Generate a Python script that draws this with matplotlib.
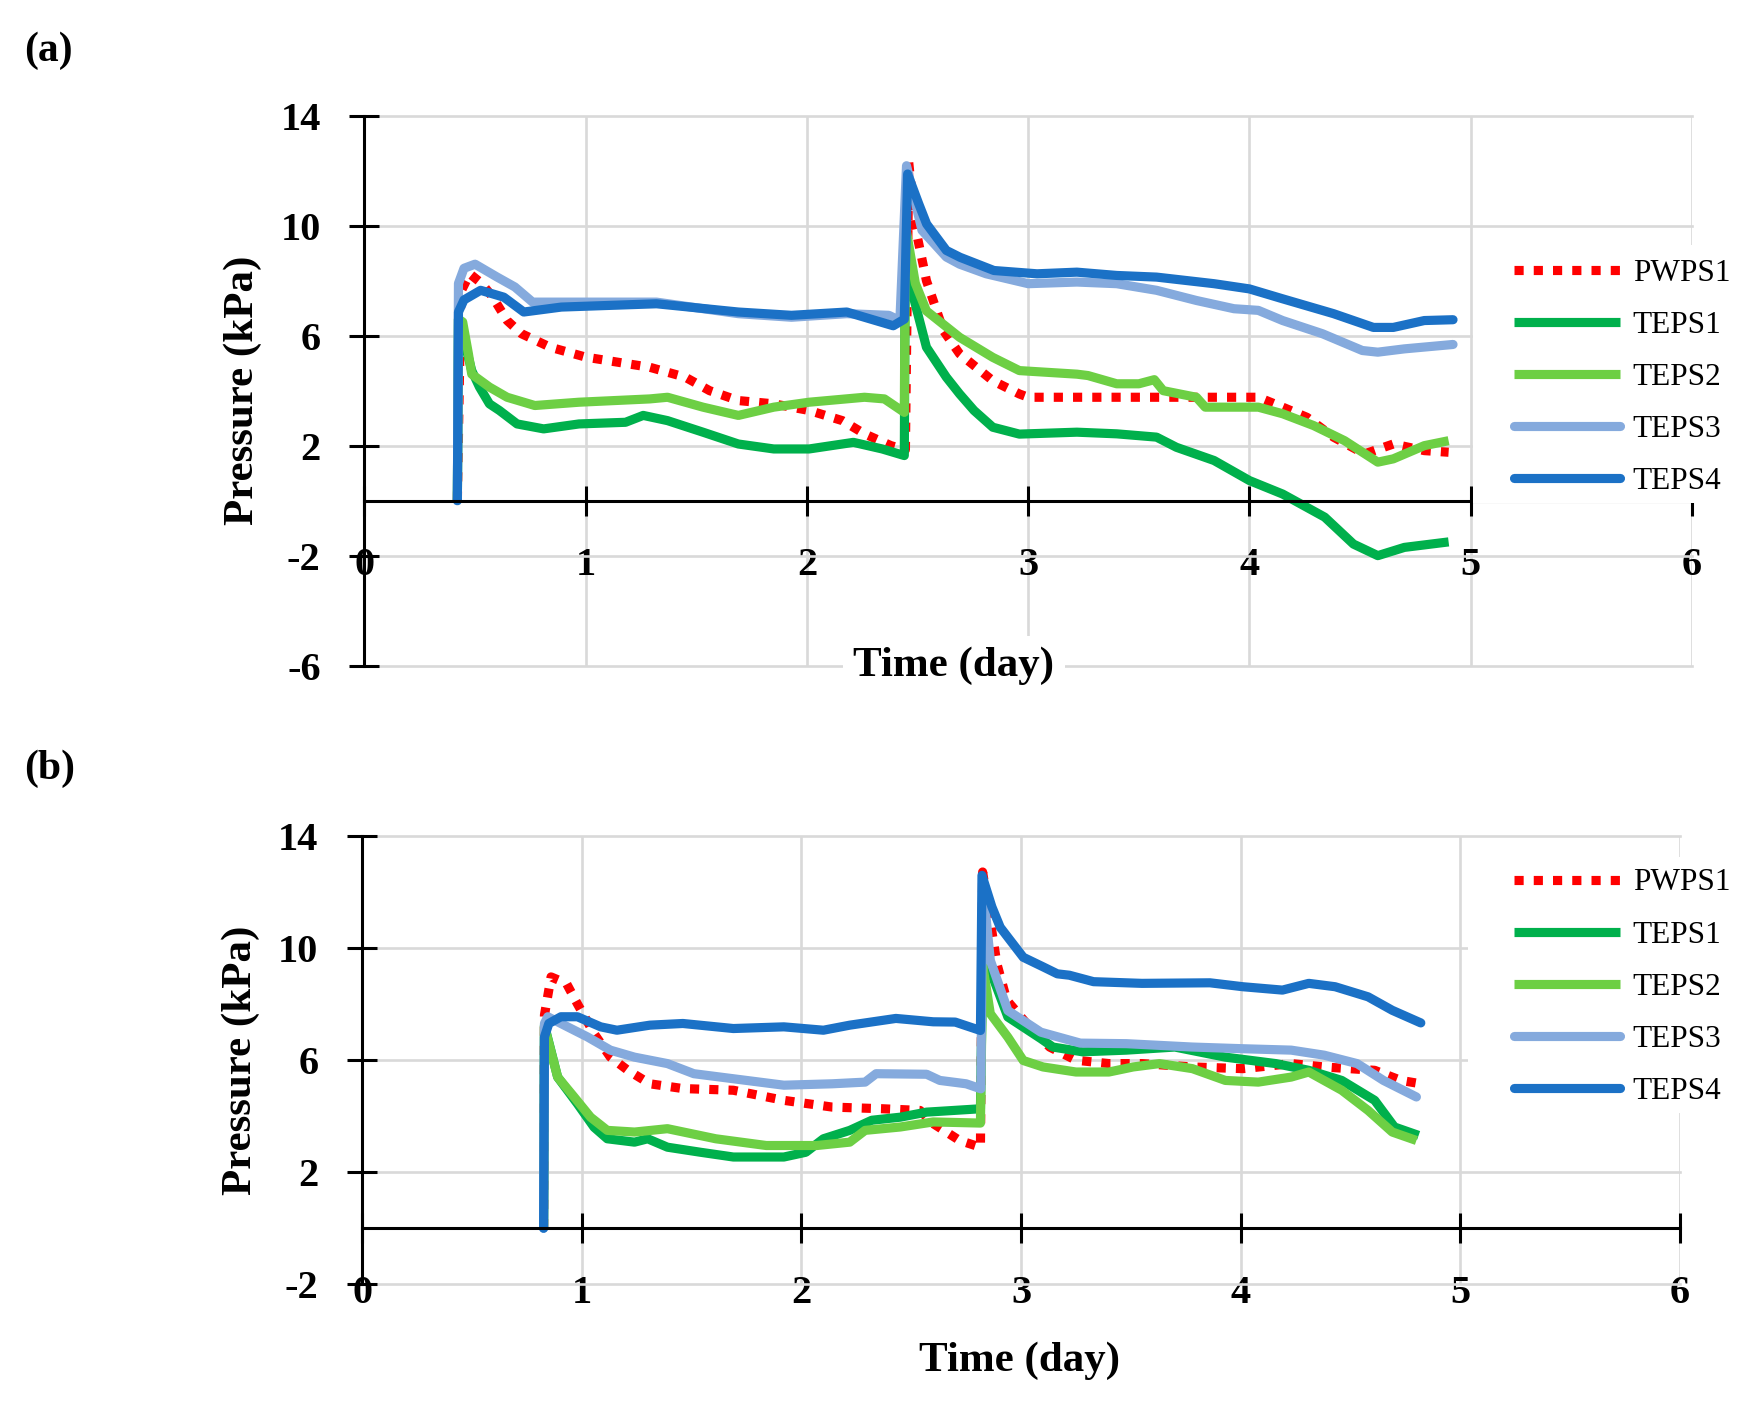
import matplotlib.pyplot as plt
from matplotlib.patches import Rectangle

plt.rcParams['font.family'] = ['Liberation Serif', 'DejaVu Serif']
plt.rcParams['font.weight'] = 'bold'
plt.rcParams['axes.unicode_minus'] = False

names = ['PWPS1', 'TEPS1', 'TEPS2', 'TEPS3', 'TEPS4']

# ---- panel (a): time (day) / pressure (kPa)
a_pwps1_t = [0.42, 0.436, 0.476, 0.53, 0.58, 0.645, 0.71, 0.84, 1.0, 1.29, 1.45, 1.56, 1.69, 1.85,
             2.01, 2.16, 2.26, 2.38, 2.445, 2.46, 2.49, 2.54, 2.617, 2.69, 2.84, 2.96, 3.0, 3.22,
             3.58, 4.04, 4.15, 4.26, 4.38, 4.52, 4.65, 4.79, 4.90]
a_pwps1_p = [0, 7.6, 8.25, 7.9, 7.4, 6.55, 6.07, 5.58, 5.22, 4.85, 4.49, 4.0, 3.64, 3.52,
             3.28, 2.91, 2.43, 2.0, 1.85, 12.3, 9.94, 8.0, 6.18, 5.34, 4.36, 3.88, 3.76, 3.76,
             3.76, 3.76, 3.4, 3.03, 2.31, 1.7, 2.06, 1.82, 1.76]

a_teps1_t = [0.42, 0.425, 0.445, 0.485, 0.52, 0.565, 0.61, 0.69, 0.81, 0.97, 1.18, 1.26, 1.37,
             1.53, 1.69, 1.85, 2.01, 2.21, 2.34, 2.44, 2.445, 2.475, 2.54, 2.63, 2.69, 2.755,
             2.84, 2.96, 3.22, 3.40, 3.58, 3.67, 3.84, 4.0, 4.15, 4.34, 4.47, 4.58, 4.70, 4.90]
a_teps1_p = [0, 6.6, 6.0, 4.73, 4.13, 3.52, 3.28, 2.79, 2.61, 2.79, 2.85, 3.1, 2.91,
             2.49, 2.06, 1.88, 1.88, 2.12, 1.88, 1.64, 10.0, 7.6, 5.58, 4.49, 3.88, 3.28,
             2.67, 2.42, 2.49, 2.43, 2.31, 1.94, 1.46, 0.73, 0.24, -0.6, -1.58, -2.0, -1.7, -1.5]

a_teps2_t = [0.42, 0.425, 0.444, 0.47, 0.485, 0.565, 0.645, 0.77, 0.97, 1.29, 1.37, 1.53, 1.69,
             1.85, 2.01, 2.26, 2.35, 2.44, 2.445, 2.49, 2.54, 2.69, 2.84, 2.96, 3.22, 3.27,
             3.40, 3.50, 3.57, 3.61, 3.76, 3.8, 4.04, 4.15, 4.29, 4.43, 4.58, 4.65, 4.79, 4.90]
a_teps2_p = [0, 6.6, 6.5, 5.34, 4.6, 4.13, 3.76, 3.46, 3.58, 3.7, 3.76, 3.4, 3.1,
             3.4, 3.58, 3.76, 3.7, 3.21, 10.0, 7.9, 6.9, 5.94, 5.21, 4.73, 4.6, 4.55,
             4.25, 4.25, 4.4, 4.0, 3.76, 3.4, 3.4, 3.16, 2.73, 2.18, 1.4, 1.52, 2.0, 2.18]

a_teps3_t = [0.42, 0.425, 0.45, 0.50, 0.60, 0.68, 0.76, 0.97, 1.32, 1.69, 1.93, 2.18, 2.37, 2.42,
             2.45, 2.52, 2.63, 2.69, 2.81, 3.0, 3.22, 3.40, 3.58, 3.76, 3.93, 4.04, 4.15,
             4.33, 4.51, 4.58, 4.70, 4.92]
a_teps3_p = [0, 7.9, 8.45, 8.6, 8.13, 7.77, 7.22, 7.22, 7.22, 6.8, 6.67, 6.8, 6.74, 6.55,
             12.18, 9.83, 8.86, 8.6, 8.25, 7.89, 7.95, 7.89, 7.65, 7.28, 6.98, 6.92, 6.55,
             6.07, 5.46, 5.4, 5.52, 5.68]

a_teps4_t = [0.42, 0.425, 0.45, 0.525, 0.63, 0.72, 0.89, 1.32, 1.69, 1.93, 2.18, 2.39, 2.44,
             2.455, 2.505, 2.541, 2.63, 2.692, 2.845, 3.04, 3.22, 3.40, 3.58, 3.84, 4.0,
             4.15, 4.38, 4.56, 4.65, 4.79, 4.92]
a_teps4_p = [0, 6.86, 7.3, 7.65, 7.4, 6.86, 7.04, 7.16, 6.86, 6.74, 6.86, 6.36, 6.6,
             11.88, 10.8, 10.06, 9.1, 8.85, 8.37, 8.25, 8.31, 8.19, 8.13, 7.89, 7.7,
             7.34, 6.8, 6.3, 6.3, 6.55, 6.58]

# ---- panel (b)
b_pwps1_t = [0.826, 0.83, 0.86, 0.93, 0.98, 1.056, 1.13, 1.21, 1.31, 1.46, 1.69, 1.92, 2.14,
             2.37, 2.54, 2.60, 2.72, 2.815, 2.825, 2.89, 2.935, 3.025, 3.13, 3.25, 3.40, 3.55,
             3.78, 4.01, 4.23, 4.38, 4.61, 4.73, 4.82]
b_pwps1_p = [0, 7.6, 8.96, 8.73, 8.0, 6.94, 6.1, 5.63, 5.15, 4.98, 4.92, 4.56, 4.32,
             4.26, 4.2, 3.73, 3.13, 2.89, 12.7, 9.43, 8.13, 7.3, 6.46, 5.99, 5.87, 5.87,
             5.75, 5.69, 5.87, 5.75, 5.63, 5.27, 5.15]

b_teps1_t = [0.826, 0.83, 0.89, 0.98, 1.056, 1.116, 1.24, 1.30, 1.39, 1.54, 1.69, 1.92, 2.02,
             2.10, 2.22, 2.32, 2.45, 2.57, 2.815, 2.825, 2.86, 2.94, 3.09, 3.145, 3.28, 3.48,
             3.70, 3.93, 4.16, 4.31, 4.46, 4.61, 4.70, 4.81]
b_teps1_p = [0, 7.24, 5.39, 4.44, 3.6, 3.19, 3.07, 3.19, 2.89, 2.71, 2.54, 2.54, 2.71,
             3.19, 3.49, 3.85, 3.96, 4.14, 4.26, 9.4, 9.19, 7.53, 6.76, 6.46, 6.29, 6.35,
             6.46, 6.1, 5.87, 5.63, 5.27, 4.56, 3.61, 3.31]

b_teps2_t = [0.826, 0.83, 0.89, 0.965, 1.04, 1.116, 1.24, 1.39, 1.61, 1.84, 2.07, 2.22, 2.29,
             2.45, 2.60, 2.815, 2.825, 2.86, 2.94, 3.01, 3.10, 3.25, 3.40, 3.51, 3.63, 3.78,
             3.93, 4.08, 4.23, 4.31, 4.46, 4.58, 4.69, 4.80]
b_teps2_p = [0, 7.2, 5.39, 4.68, 3.96, 3.49, 3.43, 3.55, 3.19, 2.95, 2.95, 3.07, 3.49,
             3.61, 3.79, 3.75, 9.4, 7.65, 6.81, 5.98, 5.75, 5.57, 5.57, 5.75, 5.87, 5.69,
             5.27, 5.21, 5.39, 5.57, 4.92, 4.2, 3.43, 3.13]

b_teps3_t = [0.826, 0.83, 0.845, 0.935, 1.026, 1.13, 1.24, 1.39, 1.51, 1.69, 1.92, 2.14, 2.29,
             2.34, 2.57, 2.63, 2.75, 2.817, 2.825, 2.86, 2.94, 3.09, 3.27, 3.48, 3.78, 4.01,
             4.23, 4.38, 4.53, 4.65, 4.80]
b_teps3_p = [0, 7.3, 7.54, 7.18, 6.82, 6.35, 6.1, 5.87, 5.51, 5.33, 5.1, 5.15, 5.21,
             5.51, 5.49, 5.27, 5.15, 4.97, 12.3, 9.55, 7.76, 6.99, 6.6, 6.58, 6.46, 6.4,
             6.35, 6.17, 5.87, 5.27, 4.68]

b_teps4_t = [0.826, 0.83, 0.85, 0.905, 0.98, 1.086, 1.16, 1.31, 1.46, 1.69, 1.92, 2.10, 2.22,
             2.43, 2.60, 2.70, 2.815, 2.822, 2.867, 2.905, 2.95, 3.01, 3.10, 3.165, 3.22, 3.33,
             3.55, 3.86, 4.01, 4.19, 4.31, 4.43, 4.58, 4.69, 4.82]
b_teps4_p = [0, 6.82, 7.3, 7.54, 7.54, 7.18, 7.06, 7.24, 7.30, 7.12, 7.18, 7.06, 7.24,
             7.48, 7.36, 7.35, 7.05, 12.58, 11.46, 10.73, 10.27, 9.66, 9.32, 9.07, 9.02, 8.79,
             8.73, 8.75, 8.61, 8.49, 8.73, 8.61, 8.25, 7.77, 7.32]

a_times = [a_pwps1_t, a_teps1_t, a_teps2_t, a_teps3_t, a_teps4_t]
a_press = [a_pwps1_p, a_teps1_p, a_teps2_p, a_teps3_p, a_teps4_p]
b_times = [b_pwps1_t, b_teps1_t, b_teps2_t, b_teps3_t, b_teps4_t]
b_press = [b_pwps1_p, b_teps1_p, b_teps2_p, b_teps3_p, b_teps4_p]

styles = [
    dict(color='#ff0000', dashes=(1.0, 1.1), dash_capstyle='butt'),
    dict(color='#00b04c', solid_capstyle='butt'),
    dict(color='#6dcf44', solid_capstyle='butt'),
    dict(color='#85aadd', solid_capstyle='round'),
    dict(color='#1b71c6', solid_capstyle='round'),
]


def panel(ax, times, press, ylim, yticks, legend_xy, box, xlabel_xy, xlabel_bg):
    for t, p, name, st in zip(times, press, names, styles):
        ax.plot(t, p, lw=6.6, solid_joinstyle='round', label=name, **st)

    ax.set_xlim(0, 6)
    ax.set_ylim(*ylim)
    ax.set_xticks(range(7))
    ax.set_yticks(yticks)
    ax.grid(True, color='#d9d9d9', linewidth=1.9)
    for gl in ax.get_xgridlines() + ax.get_ygridlines():
        gl.set_clip_on(False)

    ax.spines['top'].set_visible(False)
    ax.spines['right'].set_visible(False)
    ax.spines['bottom'].set_position(('data', 0))
    for s in ('left', 'bottom'):
        ax.spines[s].set_linewidth(2.2)
    ax.tick_params(direction='inout', length=21, width=2.2, labelsize=29)
    ax.tick_params(axis='x', pad=23)
    ax.tick_params(axis='y', pad=21)

    # white legend box laid over the plot area (as in the original)
    ax.add_patch(Rectangle((box[0], box[1]), 0.25, box[2] - box[1], transform=ax.transAxes,
                           facecolor='white', edgecolor='none', zorder=3, clip_on=False))
    ax.legend(loc='center left', bbox_to_anchor=legend_xy, frameon=False, borderpad=0,
              borderaxespad=0, handlelength=3.4, handletextpad=0.4, labelspacing=0.74,
              prop={'size': 22.5, 'weight': 'normal'})

    bg = dict(boxstyle='square,pad=0.25', fc='white', ec='none') if xlabel_bg else None
    ax.text(xlabel_xy[0], xlabel_xy[1], 'Time (day)', transform=ax.transAxes, ha='center',
            va='center', fontsize=31, bbox=bg, zorder=4, clip_on=False)
    ax.text(-0.092, 0.5, 'Pressure (kPa)', transform=ax.transAxes, rotation=90,
            ha='center', va='center', fontsize=31)


fig = plt.figure(figsize=(17.42, 14.04), dpi=100)
ax_a = fig.add_axes([0.2092, 0.5259, 0.7621, 0.3917])
ax_b = fig.add_axes([0.2079, 0.0852, 0.7565, 0.3197])

panel(ax_a, a_times, a_press, (-6, 14), [-6, -2, 2, 6, 10, 14],
      (0.866, 0.524), (0.835, 0.296, 0.765), (0.444, 0.0), True)
panel(ax_b, b_times, b_press, (-2, 14), [-2, 2, 6, 10, 14],
      (0.874, 0.662), (0.839, 0.382, 0.952), (0.499, -0.171), False)

fig.text(0.0138, 0.9637, '(a)', fontsize=30, va='center')
fig.text(0.0138, 0.4523, '(b)', fontsize=30, va='center')

fig.savefig('out.png', dpi=100)
